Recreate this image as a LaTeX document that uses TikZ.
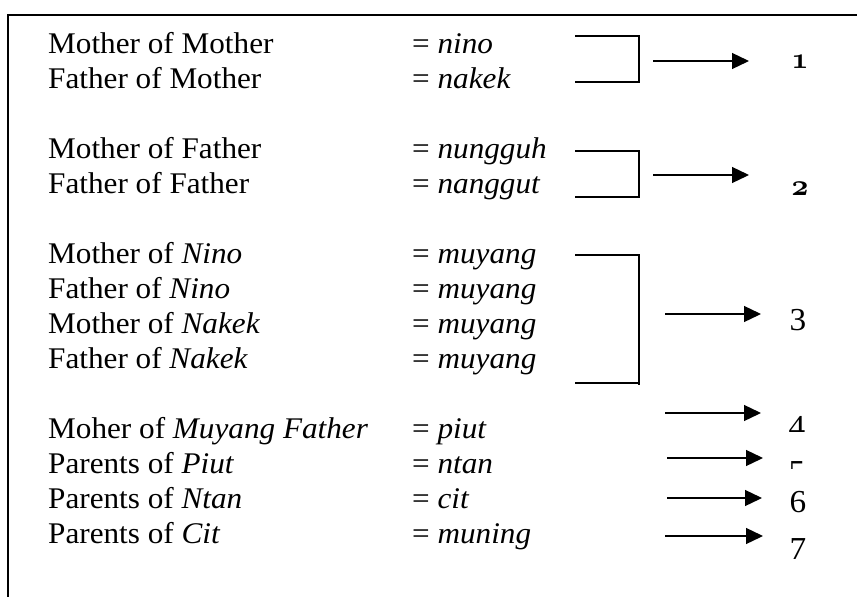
\documentclass[tikz,border=0pt]{standalone}
\usepackage{fontspec}
\setmainfont{Liberation Serif}[FakeStretch=1.04]
\usetikzlibrary{arrows.meta}
\DeclareFontFamily{OML}{oscmm}{\skewchar\font=127}
\DeclareFontShape{OML}{oscmm}{b}{it}{<->cmmib10}{}
\newcommand{\osnum}[1]{{\usefont{OML}{oscmm}{b}{it}#1}}
\begin{document}
\begin{tikzpicture}[x=1pt,y=-1pt,
  txt/.style={anchor=base west, inner sep=0pt, font=\fontsize{30}{36}\selectfont},
  num/.style={anchor=base, inner sep=0pt, font=\fontsize{32}{38}\selectfont},
  onum/.style={anchor=base, inner sep=0pt, font=\fontsize{30}{36}\selectfont},
  frame/.style={line width=2pt},
  brk/.style={line width=1.4pt},
  arr/.style={line width=1.3pt, -{Triangle[length=17pt,width=16pt]}}]
\useasboundingbox (0,0) rectangle (857,597);
% frame
\draw[frame] (8,600) -- (8,14.5) -- (860,14.5);
% left column
\node[txt] (l1) at (48,53) {Mother of Mother};
\node[txt] (l2) at (48,88) {Father of Mother};
\node[txt] (l3) at (48,158) {Mother of Father};
\node[txt] (l4) at (48,193) {Father of Father};
\node[txt] (l5) at (48,263) {Mother of \textit{Nino}};
\node[txt] (l6) at (48,298) {Father of \textit{Nino}};
\node[txt] (l7) at (48,333) {Mother of \textit{Nakek}};
\node[txt] (l8) at (48,368) {Father of \textit{Nakek}};
\node[txt] (l9) at (48,438) {Moher of \textit{Muyang Father}};
\node[txt] (l10) at (48,473) {Parents of \textit{Piut}};
\node[txt] (l11) at (48,508) {Parents of \textit{Ntan}};
\node[txt] (l12) at (48,543) {Parents of \textit{Cit}};
% right column
\node[txt] (r1) at (412,53) {= \textit{nino}};
\node[txt] (r2) at (412,88) {= \textit{nakek}};
\node[txt] (r3) at (412,158) {= \textit{nungguh}};
\node[txt] (r4) at (412,193) {= \textit{nanggut}};
\node[txt] (r5) at (412,263) {= \textit{muyang}};
\node[txt] (r6) at (412,298) {= \textit{muyang}};
\node[txt] (r7) at (412,333) {= \textit{muyang}};
\node[txt] (r8) at (412,368) {= \textit{muyang}};
\node[txt] (r9) at (412,438) {= \textit{piut}};
\node[txt] (r10) at (412,473) {= \textit{ntan}};
\node[txt] (r11) at (412,508) {= \textit{cit}};
\node[txt] (r12) at (412,543) {= \textit{muning}};
% brackets
\draw[brk] (575,36) -- (639,36) -- (639,82) -- (575,82);
\draw[brk] (575,151) -- (639,151) -- (639,197) -- (575,197);
\draw[brk] (575,255) -- (639,255) -- (639,385);
\draw[brk] (575,383) -- (639,383);
% arrow end points
\coordinate (a1s) at (653,61);  \coordinate (a1e) at (749,61);
\coordinate (a2s) at (653,175); \coordinate (a2e) at (749,175);
\coordinate (a3s) at (665,314); \coordinate (a3e) at (761,314);
\coordinate (a4s) at (665,413); \coordinate (a4e) at (761,413);
\coordinate (a5s) at (667,458); \coordinate (a5e) at (763,458);
\coordinate (a6s) at (667,498); \coordinate (a6e) at (762,498);
\coordinate (a7s) at (665,536); \coordinate (a7e) at (763,536);
\draw[arr] (a1s) -- (a1e);
\draw[arr] (a2s) -- (a2e);
\draw[arr] (a3s) -- (a3e);
\draw[arr] (a4s) -- (a4e);
\draw[arr] (a5s) -- (a5e);
\draw[arr] (a6s) -- (a6e);
\draw[arr] (a7s) -- (a7e);
% numbers
\node[onum] (n1) at (800,68) {\osnum{1}};
\node[onum] (n2) at (800,195) {\osnum{2}};
\node[num] (n3) at (798,330) {3};
\begin{scope}
\clip (775,400) rectangle (825,431);
\node[num] (n4) at (797,437) {4};
\end{scope}
\begin{scope}
\clip (775,445) rectangle (825,468);
\node[num] (n5) at (797,482) {5};
\end{scope}
\node[num] (n6) at (798,512) {6};
\node[num] (n7) at (798,559) {7};
\end{tikzpicture}
\end{document}
